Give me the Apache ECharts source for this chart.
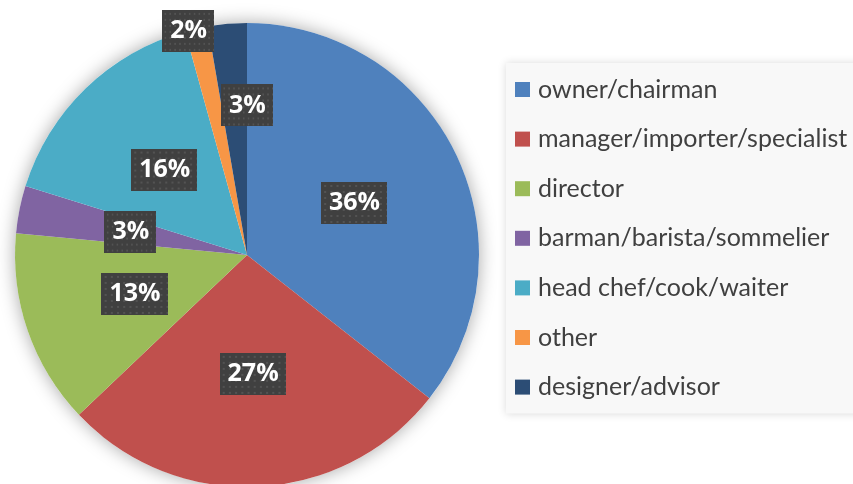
<!DOCTYPE html>
<html>
<head>
<meta charset="utf-8">
<script src="https://cdn.jsdelivr.net/npm/echarts@6/dist/echarts.min.js"></script>
<style>html,body{margin:0;padding:0;background:#fff;}#c{width:853px;height:484px;}</style>
</head>
<body>
<div id="c"></div>
<script>
// Data
const categories = ['owner/chairman','manager/importer/specialist','director','barman/barista/sommelier','head chef/cook/waiter','other','designer/advisor'];
const values = [35.6, 27.3, 13.6, 3.3, 15.9, 1.6, 2.7];
const labels = ['36%','27%','13%','3%','16%','2%','3%'];
const colors = ['#4f81bd','#c0504d','#9bbb59','#8064a2','#4bacc6','#f79646','#2c4d75'];

// dotted label background
const bg = document.createElement('canvas');
bg.width = 64; bg.height = 42;
const g = bg.getContext('2d');
g.fillStyle = '#404040'; g.fillRect(0,0,64,42);
g.fillStyle = '#535353';
for (let y = 3; y < 42; y += 6) for (let x = 3; x < 64; x += 6) g.fillRect(x, y, 2, 2);

// fit legend font
const legendFont = 'Lato';
const mc = document.createElement('canvas').getContext('2d');
let fs = 22;
for (let s = 26; s > 14; s -= 0.5) { mc.font = s + 'px ' + legendFont; if (mc.measureText('manager/importer/specialist').width <= 310) { fs = s; break; } }

const chart = echarts.init(document.getElementById('c'), null, {renderer: 'canvas'});
chart.setOption({
  animation: false,
  legend: {
    orient: 'vertical', left: 506, top: 63,
    padding: [14, 20, 14, 9],
    backgroundColor: '#f8f8f8',
    shadowBlur: 8, shadowColor: 'rgba(0,0,0,0.15)',
    itemWidth: 15, itemHeight: 15, itemGap: 24.6, icon: 'rect',
    data: categories,
    textStyle: {fontFamily: legendFont, fontSize: fs, color: '#404040', lineHeight: 22, padding: [0,0,0,3]}
  },
  series: [
    {
      type: 'pie', silent: true, center: [247, 255], radius: 232, z: 1,
      label: {show: false}, labelLine: {show: false},
      itemStyle: {color: '#ffffff', shadowBlur: 18, shadowColor: 'rgba(0,0,0,0.35)'},
      data: [{value: 1, name: ''}]
    },
    {
      type: 'pie', center: [247, 255], radius: 232, startAngle: 90, clockwise: true, z: 2,
      avoidLabelOverlap: false,
      data: categories.map((n, i) => ({name: n, value: values[i], itemStyle: {color: colors[i]}})),
      label: {
        show: true, position: 'inside',
        formatter: p => labels[p.dataIndex],
        fontFamily: 'Open Sans', fontWeight: 'bold', fontSize: 25, color: '#ffffff',
        lineHeight: 28,
        backgroundColor: {image: bg},
        padding: [8, 7, 6, 8],
        shadowBlur: 5, shadowColor: 'rgba(0,0,0,0.45)', shadowOffsetX: 3, shadowOffsetY: 3
      },
      labelLine: {show: false},
      labelLayout: function (p) {
        if (p.dataIndex === 5) return {dx: -33, dy: -108};
        if (p.dataIndex === 6) return {dx: 10, dy: -31};
        return {};
      }
    }
  ]
});
</script>
</body>
</html>
